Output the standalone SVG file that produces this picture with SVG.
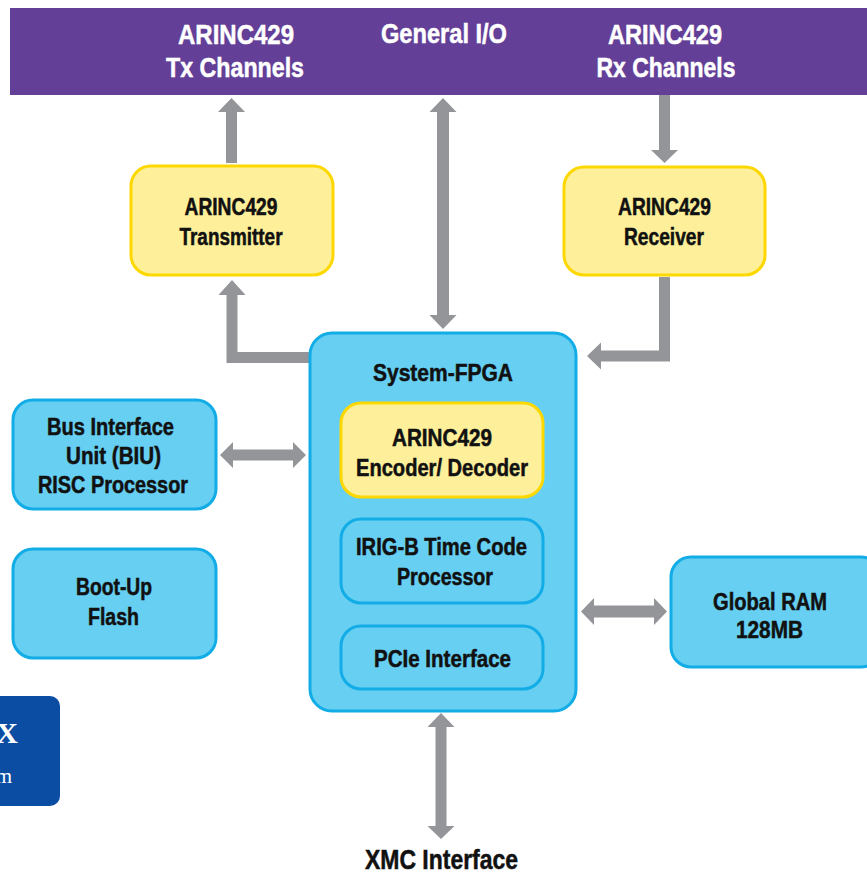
<svg xmlns="http://www.w3.org/2000/svg" width="867" height="872" viewBox="0 0 867 872">
<defs>
<style>
.t{font-family:"Liberation Sans Narrow","Liberation Sans",Arial,sans-serif;font-weight:bold;text-anchor:middle;}
.hd{fill:#ffffff;stroke:#ffffff;stroke-width:0.5;font-size:28px;}
.bx{fill:#111111;stroke:#111111;stroke-width:0.5;font-size:23px;}
.yel{fill:#FEF09A;stroke:#FDD700;stroke-width:3;}
.blu{fill:#66CFF2;stroke:#12ACE6;stroke-width:3;}
.arr{fill:#939598;}
</style>
</defs>
<rect width="867" height="872" fill="#ffffff"/>
<g id="header">
<rect x="10" y="8" width="870" height="87" fill="#633F97"/>
<text class="t hd" x="236" y="44" textLength="116" lengthAdjust="spacingAndGlyphs">ARINC429</text>
<text class="t hd" x="235" y="77" textLength="138" lengthAdjust="spacingAndGlyphs">Tx Channels</text>
<text class="t hd" x="444" y="43" textLength="126" lengthAdjust="spacingAndGlyphs">General I/O</text>
<text class="t hd" x="665" y="44" textLength="114" lengthAdjust="spacingAndGlyphs">ARINC429</text>
<text class="t hd" x="666" y="77" textLength="139" lengthAdjust="spacingAndGlyphs">Rx Channels</text>
</g>
<g id="connectors">
<polygon class="arr" points="226,163 226,112 218,112 231.5,98 245,112 237,112 237,163"/>
<polygon class="arr" points="310,352 237.5,352 237.5,295 245.5,295 232,280 218.5,295 226.5,295 226.5,363 310,363"/>
<polygon class="arr" points="443,98 456.5,112 449,112 449,315 456.5,315 443,329 429.5,315 437,315 437,112 429.5,112"/>
<polygon class="arr" points="659,95 670,95 670,150 678,150 664.5,163 651,150 659,150"/>
<polygon class="arr" points="659,277 670,277 670,361.5 601,361.5 601,369.5 587,356 601,342.5 601,350.5 659,350.5"/>
<polygon class="arr" points="220,455 233,442 233,449.5 293,449.5 293,442 306,455 293,468 293,460.5 233,460.5 233,468"/>
<polygon class="arr" points="581,611.5 594,598 594,605.5 654,605.5 654,598 667,611.5 654,625 654,617.5 594,617.5 594,625"/>
<polygon class="arr" points="441,713 454.5,727 446.5,727 446.5,826 454.5,826 441,839 427.5,826 435.5,826 435.5,727 427.5,727"/>
</g>
<g id="transmitter">
<rect class="yel" x="131" y="166" width="202" height="109" rx="20"/>
<text class="t bx" x="231" y="215" textLength="93" lengthAdjust="spacingAndGlyphs">ARINC429</text>
<text class="t bx" x="231" y="245" textLength="103" lengthAdjust="spacingAndGlyphs">Transmitter</text>
</g>
<g id="receiver">
<rect class="yel" x="564" y="167" width="201" height="108" rx="20"/>
<text class="t bx" x="664.5" y="215" textLength="93" lengthAdjust="spacingAndGlyphs">ARINC429</text>
<text class="t bx" x="664" y="245" textLength="80" lengthAdjust="spacingAndGlyphs">Receiver</text>
</g>
<g id="fpga">
<rect class="blu" x="310" y="333" width="266" height="378" rx="22"/>
<text class="t bx" x="443" y="381" textLength="140" lengthAdjust="spacingAndGlyphs">System-FPGA</text>
</g>
<g id="encoder">
<rect class="yel" x="341" y="403" width="202" height="94" rx="20"/>
<text class="t bx" x="442" y="446" textLength="100" lengthAdjust="spacingAndGlyphs">ARINC429</text>
<text class="t bx" x="442" y="476" textLength="172" lengthAdjust="spacingAndGlyphs">Encoder/ Decoder</text>
</g>
<g id="irig">
<rect class="blu" x="341" y="519" width="202" height="84" rx="20"/>
<text class="t bx" x="441.5" y="555" textLength="171" lengthAdjust="spacingAndGlyphs">IRIG-B Time Code</text>
<text class="t bx" x="445" y="585" textLength="96" lengthAdjust="spacingAndGlyphs">Processor</text>
</g>
<g id="pcie">
<rect class="blu" x="341" y="626" width="202" height="63" rx="20"/>
<text class="t bx" x="442.5" y="667" textLength="137" lengthAdjust="spacingAndGlyphs">PCIe Interface</text>
</g>
<g id="biu">
<rect class="blu" x="13" y="400" width="203" height="109" rx="20"/>
<text class="t bx" x="110.5" y="435" textLength="127" lengthAdjust="spacingAndGlyphs">Bus Interface</text>
<text class="t bx" x="113.5" y="464" textLength="95" lengthAdjust="spacingAndGlyphs">Unit (BIU)</text>
<text class="t bx" x="113" y="493" textLength="150" lengthAdjust="spacingAndGlyphs">RISC Processor</text>
</g>
<g id="bootflash">
<rect class="blu" x="13" y="549" width="203" height="109" rx="20"/>
<text class="t bx" x="114" y="595" textLength="76" lengthAdjust="spacingAndGlyphs">Boot-Up</text>
<text class="t bx" x="113.5" y="625" textLength="51" lengthAdjust="spacingAndGlyphs">Flash</text>
</g>
<g id="globalram">
<rect class="blu" x="671" y="557" width="210" height="110" rx="20"/>
<text class="t bx" x="770" y="610" textLength="114" lengthAdjust="spacingAndGlyphs">Global RAM</text>
<text class="t bx" x="769.5" y="638" textLength="67" lengthAdjust="spacingAndGlyphs">128MB</text>
</g>
<g id="xmc">
<text class="t bx" x="441.5" y="869" font-size="27" style="font-size:27px" textLength="153" lengthAdjust="spacingAndGlyphs">XMC Interface</text>
</g>
<g id="badge">
<rect x="-20" y="696" width="80" height="110" rx="10" fill="#0A4DA2"/>
<text x="18" y="743" font-family="Liberation Serif,serif" font-weight="bold" font-size="30" fill="#ffffff" text-anchor="end">X</text>
<text x="12" y="783" font-family="Liberation Serif,serif" font-size="21" fill="#ffffff" text-anchor="end">m</text>
</g>
</svg>
